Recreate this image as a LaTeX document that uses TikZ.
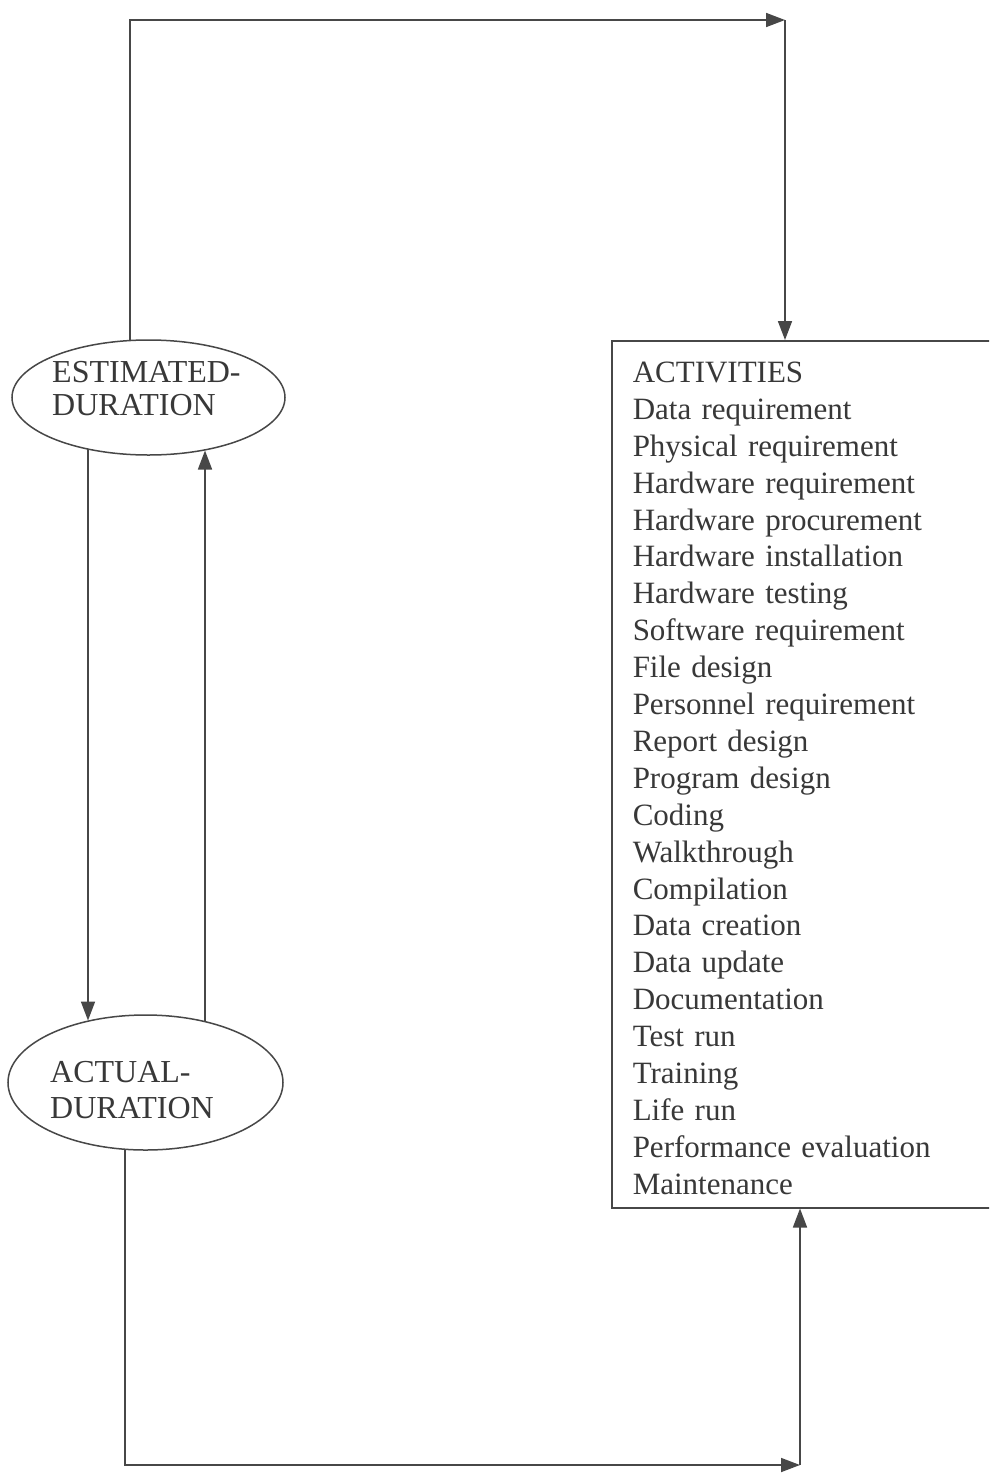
\documentclass[tikz,border=0pt]{standalone}
\usepackage{fontspec}
\setmainfont{Liberation Serif}
\usetikzlibrary{arrows.meta,shapes.geometric,calc}
\begin{document}
\begin{tikzpicture}[x=1pt,y=-1pt,
  conn/.style={draw=black!72, line width=1.7pt, -{Triangle[length=19pt,width=14pt]}},
  dur/.style={ellipse, draw=black!72, line width=1.5pt, inner sep=0pt},
  durtext/.style={inner sep=0pt, align=left, text=black!78, anchor=north west},
  actbox/.style={draw=black!72, line width=1.5pt, rectangle, anchor=north west,
    inner xsep=21pt, inner ysep=10pt, text width=360pt, align=left, text=black!78,
    font=\fontsize{31}{36.9}\selectfont, minimum height=867pt}]
\useasboundingbox (0,0) rectangle (989,1473);
\fill[white] (0,0) rectangle (989,1473);
\clip (0,0) rectangle (989,1473);

% ellipses
\node[dur, minimum width=273pt, minimum height=115pt] (est) at (148.5,397.5) {};
\node[dur, minimum width=275pt, minimum height=135pt] (actd) at (145.5,1082.5) {};
\node[durtext, font=\fontsize{32}{33}\selectfont] (esttxt) at (52,360.8) {ESTIMATED-\\DURATION};
\node[durtext, font=\fontsize{32}{36}\selectfont] (acttxt) at (50,1060.8) {ACTUAL-\\DURATION};

% activities box
\node[actbox] (act) at (611,340) {\raisebox{0pt}[28.5pt][0pt]{ACTIVITIES}\\
Data requirement\\
Physical requirement\\
Hardware requirement\\
Hardware procurement\\
Hardware installation\\
Hardware testing\\
Software requirement\\
File design\\
Personnel requirement\\
Report design\\
Program design\\
Coding\\
Walkthrough\\
Compilation\\
Data creation\\
Data update\\
Documentation\\
Test run\\
Training\\
Life run\\
Performance evaluation\\
Maintenance};

% corners and columns
\coordinate (tr) at (785,20);
\coordinate (br) at (800,1465);
\coordinate (lx) at (88,0);
\coordinate (rx) at (205,0);

% top loop
\draw[conn] (est.108) |- (tr);
\draw[conn] (tr) -- (act.north -| tr);

% bottom loop
\draw[conn] (actd.253) |- (br);
\draw[conn] (br) -- (act.south -| br);

% between ellipses
\draw[conn] (lx |- est.220) -- (lx |- actd.133);
\draw[conn] (rx |- actd.46) -- (rx |- est.317);
\end{tikzpicture}
\end{document}
